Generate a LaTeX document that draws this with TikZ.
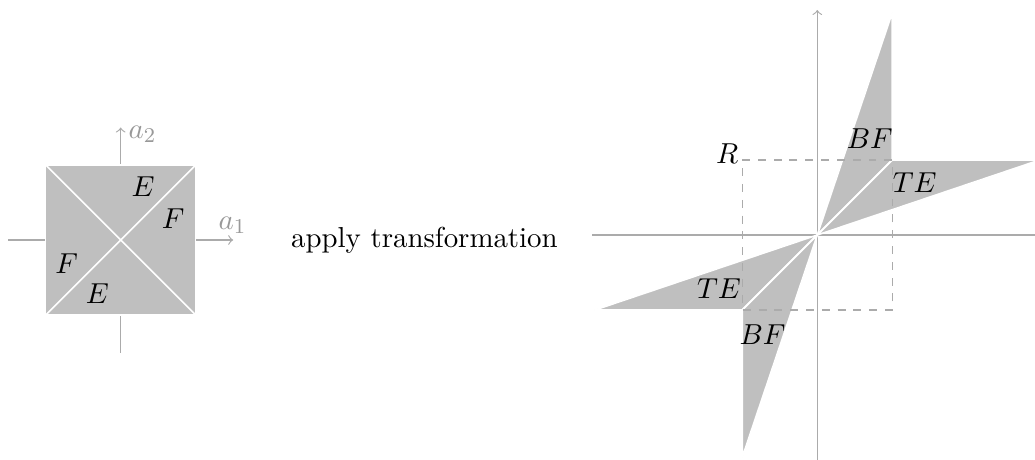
\documentclass[tikz,border=0pt,11pt]{standalone}
\begin{document}
\begin{tikzpicture}[x=1cm,y=1cm,
  axis/.style={draw=black!33, line width=0.45pt},
  axisarrow/.style={axis, ->},
  face/.style={fill=black!25, draw=white, line width=0.6pt, line join=round},
  crease/.style={draw=white, line width=0.6pt},
  frame/.style={draw=black!33, line width=0.5pt, dashed},
  lbl/.style={inner sep=0pt},
  axlbl/.style={text=black!40, inner sep=0pt}]

% page frame
\clip (-1.609,-2.92) rectangle (12.191,3.2);

% ---------- the unit square with its axes ----------
\coordinate (L)  at (0,0);
\coordinate (Lw) at (-1.5,0);
\coordinate (Le) at (1.5,0);
\coordinate (Ls) at (0,-1.5);
\coordinate (Ln) at (0,1.5);
\draw[axisarrow] (Lw) -- (Le);
\draw[axisarrow] (Ls) -- (Ln);

\coordinate (q1) at (1,1);
\coordinate (q2) at (-1,1);
\coordinate (q3) at (-1,-1);
\coordinate (q4) at (1,-1);
\filldraw[face] (q1) -- (q2) -- (q3) -- (q4) -- cycle;
\draw[crease] (q1) -- (q3) (q2) -- (q4);

\node[lbl] (eN) at (0.30,0.71)   {$E$};
\node[lbl] (fE) at (0.70,0.29)   {$F$};
\node[lbl] (fW) at (-0.72,-0.31) {$F$};
\node[lbl] (eS) at (-0.31,-0.71) {$E$};
\node[axlbl] (a1) at (1.49,0.20) {$a_1$};
\node[axlbl] (a2) at (0.29,1.41) {$a_2$};

% ---------- caption between the two figures ----------
\node (apply) at (4.05,0) {apply transformation};

% ---------- the transformed picture ----------
\begin{scope}[shift={(9.288,0.0667)}]
  \coordinate (O)  at (0,0);
  \coordinate (Rw) at (-3,0);
  \coordinate (Re) at (3,0);
  \coordinate (Rs) at (0,-3);
  \coordinate (Rn) at (0,3);
  \draw[axis] (Rw) -- (Re);
  \draw[axisarrow] (Rs) -- (Rn);

  \coordinate (c1) at (1,1);
  \coordinate (c2) at (-1,1);
  \coordinate (c3) at (-1,-1);
  \coordinate (c4) at (1,-1);
  \coordinate (bfTop)  at (1,2.964);
  \coordinate (teTip)  at (2.964,1);
  \coordinate (teLow)  at (-2.964,-1);
  \coordinate (bfLow)  at (-1,-2.964);

  \filldraw[face] (O) -- (c1) -- (bfTop) -- cycle;
  \filldraw[face] (O) -- (teTip) -- (c1) -- cycle;
  \filldraw[face] (O) -- (c3) -- (teLow) -- cycle;
  \filldraw[face] (O) -- (bfLow) -- (c3) -- cycle;
  \draw[crease] (O) -- (c1) (O) -- (c3);

  \draw[frame] (c1) -- (c2) -- (c3) -- (c4) -- cycle;

  \node[lbl] (bfU) at (0.70,1.29)   {$BF$};
  \node[lbl] (teU) at (1.30,0.70)   {$TE$};
  \node[lbl] (teD) at (-1.31,-0.71) {$TE$};
  \node[lbl] (bfD) at (-0.73,-1.33) {$BF$};
  \node[lbl] (R)   at (-1.20,1.08)  {$R$};
\end{scope}
\end{tikzpicture}
\end{document}
